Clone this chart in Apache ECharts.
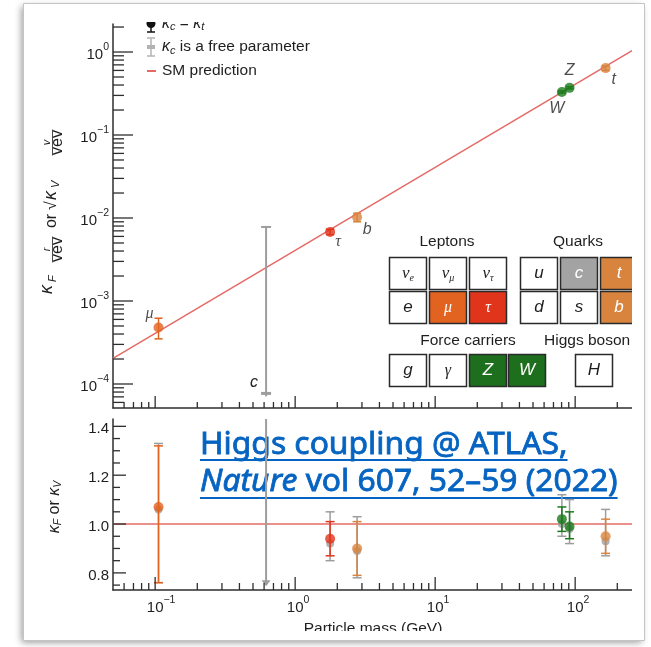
<!DOCTYPE html>
<html>
<head>
<meta charset="utf-8">
<title>Higgs boson couplings vs particle mass</title>
<script src="https://cdn.jsdelivr.net/npm/echarts@6.0.0/dist/echarts.min.js"></script>
<style>
  html, body { margin: 0; padding: 0; background: #ffffff; }
  #chart { width: 651px; height: 647px; }
</style>
</head>
<body>
<div id="chart"></div>
<script>
// ---- measured particles (masses in GeV) ----
const particles = ['μ', 'τ', 'b', 'W', 'Z', 't'];
const massGeV = [0.1057, 1.777, 2.77, 80.4, 91.19, 165];

// upper panel: reduced coupling strength (kappa_c = kappa_t)
const reducedCoupling = [4.8e-4, 6.8e-3, 1.02e-2, 0.33, 0.37, 0.64];
const reducedLow      = [3.5e-4, 6.3e-3, 9.0e-3, 0.32, 0.36, 0.60];
const reducedHigh     = [6.2e-4, 7.3e-3, 1.14e-2, 0.34, 0.38, 0.68];

// lower panel: coupling modifiers, kappa_c = kappa_t
const kappa     = [1.07, 0.94, 0.90, 1.02, 0.99, 0.95];
const kappaLow  = [0.76, 0.87, 0.79, 0.97, 0.94, 0.88];
const kappaHigh = [1.32, 1.01, 1.01, 1.07, 1.05, 1.02];

// lower panel: coupling modifiers with kappa_c as a free parameter
const kappaFree     = [1.06, 0.92, 0.89, 1.00, 0.98, 0.93];
const kappaFreeLow  = [0.76, 0.85, 0.78, 0.95, 0.92, 0.87];
const kappaFreeHigh = [1.33, 1.05, 1.03, 1.12, 1.10, 1.06];

// charm quark (only with kappa_c free)
const charmMass = 0.62;
const charmReduced = 7.7e-5;
const charmReducedLow = 7.1e-5;
const charmReducedHigh = 7.8e-3;
const charmKappaHigh = 1.43;
const charmKappaLimit = 0.745;

// SM expectation
const smMass = [0.05, 255];
const smReduced = [2.03e-4, 1.04];
const smKappa = [1, 1];

// axis ticks
const xMajorTicks = [0.1, 1, 10, 100];
const xTickLabels = ['10^−1', '10^0', '10^1', '10^2'];
const yTopMajorTicks = [1e-4, 1e-3, 1e-2, 1e-1, 1];
const yTopTickLabels = ['10^−4', '10^−3', '10^−2', '10^−1', '10^0'];
const yBottomMajorTicks = [0.8, 1.0, 1.2, 1.4];
const yBottomTickLabels = ['0.8', '1.0', '1.2', '1.4'];
const yBottomMinorTicks = [0.75, 0.85, 0.9, 0.95, 1.05, 1.1, 1.15, 1.25, 1.3, 1.35];

// ---- styling ----
const FONT = '"Liberation Sans", Arial, Helvetica, sans-serif';
const LINKFONT = '"Noto Sans", "Open Sans", sans-serif';
const SERIF = '"Liberation Serif", "DejaVu Serif", serif';
const AXIS = '#2e2e2e';
const TEXT = '#1e1e1e';
const GREY = '#9d9d9d';
const SMRED = '#e56a66';
const particleColor = { 'μ': '#e2621f', 'τ': '#e0351b', 'b': '#d8843f', 'W': '#1b7a1b', 'Z': '#1b7a1b', 't': '#d8843f' };
const labelOffset = { 'μ': [-9, -14], 'τ': [8, 10], 'b': [10, 12], 'W': [-5, 17], 'Z': [0, -17], 't': [8, 11] };
const greekLabel = { 'μ': true, 'τ': true };

const X_MIN = 0.05, X_MAX = 254.7;
const YT_MIN = 5.138e-5, YT_MAX = 2.175;
const YB_MIN = 0.73, YB_MAX = 1.43;

const measureCtx = document.createElement('canvas').getContext('2d');
function textWidth(txt, font) { measureCtx.font = font; return measureCtx.measureText(txt).width; }

// minor ticks of a log axis: 2..9 times each decade, inside the range
function logMinors(lo, hi) {
  const out = [];
  for (let e = Math.floor(Math.log10(lo)); e <= Math.ceil(Math.log10(hi)); e++) {
    for (let k = 2; k <= 9; k++) {
      const v = k * Math.pow(10, e);
      if (v > lo * 1.001 && v < hi) out.push(v);
    }
  }
  return out;
}

const tickRich = {
  b: { fontSize: 15, fontFamily: FONT, lineHeight: 20, verticalAlign: 'bottom', fill: TEXT, color: TEXT },
  s: { fontSize: 10.5, fontFamily: FONT, lineHeight: 13, verticalAlign: 'top', fill: TEXT, color: TEXT }
};
function richTick(s) {
  const parts = s.split('^');
  return parts.length === 2 ? '{b|' + parts[0] + '}{s|' + parts[1] + '}' : '{b|' + s + '}';
}
const tenHalf = textWidth('10', '15px ' + FONT) / 2;

// ticks and tick labels drawn through the axis scales
function tickSeries(dim, gridIdx, majors, minors, majorLen, minorLen, labels, refOther) {
  const data = majors.map(v => [v, 2]).concat(minors.map(v => [v, 1]));
  return {
    type: 'custom', xAxisIndex: gridIdx, yAxisIndex: gridIdx, clip: false, silent: true, z: 6,
    encode: dim === 'x' ? { x: 0, y: 1 } : { y: 0, x: 1 },
    data,
    renderItem(params, api) {
      const cs = params.coordSys;
      const v = api.value(0);
      const major = api.value(1) === 2;
      const len = major ? majorLen : minorLen;
      const children = [];
      if (dim === 'x') {
        const x = api.coord([v, refOther])[0];
        const y0 = cs.y + cs.height;
        children.push({ type: 'line', shape: { x1: x, y1: y0, x2: x, y2: y0 - len }, style: { stroke: AXIS, lineWidth: 1.3 } });
        if (major && labels) {
          const idx = majors.indexOf(v);
          children.push({ type: 'text', style: { text: richTick(labels[idx]), rich: tickRich, x: x - tenHalf, y: y0 + 15, align: 'left', verticalAlign: 'middle', fill: TEXT } });
        }
      } else {
        const y = api.coord([refOther, v])[1];
        const x0 = cs.x;
        children.push({ type: 'line', shape: { x1: x0, y1: y, x2: x0 + len, y2: y }, style: { stroke: AXIS, lineWidth: 1.3 } });
        if (major && labels) {
          const idx = majors.indexOf(v);
          children.push({ type: 'text', style: { text: richTick(labels[idx]), rich: tickRich, x: x0 - 4, y: y, align: 'right', verticalAlign: 'middle', fill: TEXT } });
        }
      }
      return { type: 'group', children };
    }
  };
}

// vertical error bars with caps
function errorBarSeries(gridIdx, xs, lows, highs, colorOf, capHalf, lineWidth, z) {
  return {
    type: 'custom', xAxisIndex: gridIdx, yAxisIndex: gridIdx, clip: false, silent: true, z,
    encode: { x: 0, y: [1, 2] },
    data: xs.map((m, i) => [m, lows[i], highs[i], i]),
    renderItem(params, api) {
      const lo = api.coord([api.value(0), api.value(1)]);
      const hi = api.coord([api.value(0), api.value(2)]);
      const color = colorOf(api.value(3));
      const st = { stroke: color, lineWidth };
      return {
        type: 'group', children: [
          { type: 'line', shape: { x1: lo[0], y1: lo[1], x2: hi[0], y2: hi[1] }, style: st },
          { type: 'line', shape: { x1: lo[0] - capHalf, y1: lo[1], x2: lo[0] + capHalf, y2: lo[1] }, style: st },
          { type: 'line', shape: { x1: hi[0] - capHalf, y1: hi[1], x2: hi[0] + capHalf, y2: hi[1] }, style: st }
        ]
      };
    }
  };
}

function pointSeries(gridIdx, ys, colorOf, size, z, withLabels) {
  return {
    type: 'scatter', xAxisIndex: gridIdx, yAxisIndex: gridIdx, z, silent: true,
    symbol: 'circle', symbolSize: size,
    data: particles.map((p, i) => {
      const item = { name: p, value: [massGeV[i], ys[i]], itemStyle: { color: colorOf(i) } };
      if (withLabels) {
        item.label = {
          show: true, position: 'inside', offset: labelOffset[p], formatter: '{b}',
          fontStyle: 'italic', fontSize: 16, color: TEXT,
          fontFamily: greekLabel[p] ? SERIF : FONT
        };
      }
      return item;
    })
  };
}

const colorByIndex = i => particleColor[particles[i]];
const greyByIndex = () => GREY;

const axisCommon = {
  axisLine: { show: true, onZero: false, lineStyle: { color: AXIS, width: 1.5 } },
  axisTick: { show: false }, axisLabel: { show: false }, splitLine: { show: false }, minorTick: { show: false }
};

const series = [
  // SM lines
  { type: 'line', xAxisIndex: 0, yAxisIndex: 0, z: 3, silent: true, symbol: 'none',
    lineStyle: { color: SMRED, width: 1.5 }, data: smMass.map((m, i) => [m, smReduced[i]]) },
  { type: 'line', xAxisIndex: 1, yAxisIndex: 1, z: 3, silent: true, symbol: 'none',
    lineStyle: { color: SMRED, width: 1.5 }, data: smMass.map((m, i) => [m, smKappa[i]]) },

  // charm, upper panel
  {
    type: 'custom', xAxisIndex: 0, yAxisIndex: 0, clip: false, silent: true, z: 4,
    encode: { x: 0, y: [1, 2, 3] },
    data: [[charmMass, charmReducedLow, charmReduced, charmReducedHigh]],
    renderItem(params, api) {
      const lo = api.coord([api.value(0), api.value(1)]);
      const c = api.coord([api.value(0), api.value(2)]);
      const hi = api.coord([api.value(0), api.value(3)]);
      const st = { stroke: GREY, lineWidth: 2 };
      return {
        type: 'group', children: [
          { type: 'line', shape: { x1: lo[0], y1: lo[1], x2: hi[0], y2: hi[1] }, style: st },
          { type: 'line', shape: { x1: hi[0] - 5, y1: hi[1], x2: hi[0] + 5, y2: hi[1] }, style: st },
          { type: 'line', shape: { x1: c[0] - 5, y1: c[1], x2: c[0] + 5, y2: c[1] }, style: { stroke: GREY, lineWidth: 3 } },
          { type: 'text', style: { text: 'c', x: c[0] - 12, y: c[1] - 11, align: 'center', verticalAlign: 'middle', font: 'italic 16px ' + FONT, fill: TEXT } }
        ]
      };
    }
  },
  // charm, lower panel (limit arrow)
  {
    type: 'custom', xAxisIndex: 1, yAxisIndex: 1, clip: false, silent: true, z: 4,
    encode: { x: 0, y: [1, 2] },
    data: [[charmMass, charmKappaLimit, charmKappaHigh]],
    renderItem(params, api) {
      const lo = api.coord([api.value(0), api.value(1)]);
      const hi = api.coord([api.value(0), api.value(2)]);
      return {
        type: 'group', children: [
          { type: 'line', shape: { x1: lo[0], y1: lo[1] - 4, x2: hi[0], y2: hi[1] }, style: { stroke: GREY, lineWidth: 2 } },
          { type: 'polygon', shape: { points: [[lo[0] - 4.5, lo[1] - 6], [lo[0] + 4.5, lo[1] - 6], [lo[0], lo[1]]] }, style: { fill: GREY } }
        ]
      };
    }
  },

  // upper panel measurements
  errorBarSeries(0, massGeV, reducedLow, reducedHigh, colorByIndex, 4, 1.5, 5),
  pointSeries(0, reducedCoupling, colorByIndex, 10, 6, true),

  // lower panel: kappa_c free (grey) behind kappa_c = kappa_t (coloured)
  errorBarSeries(1, massGeV, kappaFreeLow, kappaFreeHigh, greyByIndex, 4.5, 1.5, 4),
  pointSeries(1, kappaFree, greyByIndex, 8, 4, false),
  errorBarSeries(1, massGeV, kappaLow, kappaHigh, colorByIndex, 4.5, 1.5, 5),
  pointSeries(1, kappa, colorByIndex, 10, 6, false),

  // axis ticks
  tickSeries('x', 0, xMajorTicks, logMinors(X_MIN, X_MAX), 12, 6, null, 1),
  tickSeries('x', 1, xMajorTicks, logMinors(X_MIN, X_MAX), 13, 7, xTickLabels, 1),
  tickSeries('y', 0, yTopMajorTicks, logMinors(YT_MIN, YT_MAX), 20, 11, yTopTickLabels, 1),
  tickSeries('y', 1, yBottomMajorTicks, yBottomMinorTicks, 13, 7, yBottomTickLabels, 1)
];

// ---- graphic overlays ----
const graphic = [];

// framed picture with drop shadow
graphic.push({ type: 'rect', z: -5, shape: { x: 23.5, y: 3.5, width: 621, height: 637 },
  style: { fill: '#ffffff', shadowBlur: 7, shadowOffsetX: -3, shadowOffsetY: 2, shadowColor: 'rgba(0,0,0,0.4)' } });

// legend
const legendRich = {
  k: { fontSize: 16, fontStyle: 'italic', fontFamily: FONT, lineHeight: 18, fill: TEXT },
  s: { fontSize: 11, fontStyle: 'italic', fontFamily: FONT, lineHeight: 10, verticalAlign: 'bottom', fill: TEXT }
};
graphic.push({ type: 'group', z: 20, children: [
  { type: 'line', shape: { x1: 151, y1: 14, x2: 151, y2: 32 }, style: { stroke: '#111', lineWidth: 1.5 } },
  { type: 'line', shape: { x1: 147, y1: 32, x2: 155, y2: 32 }, style: { stroke: '#111', lineWidth: 1.5 } },
  { type: 'circle', shape: { cx: 151, cy: 23.5, r: 4.5 }, style: { fill: '#111' } },
  { type: 'text', style: { text: '{k|κ}{s|c} = {k|κ}{s|t}', x: 162, y: 23.5, align: 'left', verticalAlign: 'middle',
    rich: legendRich, font: '15.5px ' + FONT, fill: TEXT } },

  { type: 'line', shape: { x1: 151, y1: 38, x2: 151, y2: 56 }, style: { stroke: '#b3b3b3', lineWidth: 1.5 } },
  { type: 'line', shape: { x1: 147, y1: 38, x2: 155, y2: 38 }, style: { stroke: '#b3b3b3', lineWidth: 1.5 } },
  { type: 'line', shape: { x1: 147, y1: 56, x2: 155, y2: 56 }, style: { stroke: '#b3b3b3', lineWidth: 1.5 } },
  { type: 'rect', shape: { x: 147, y: 45, width: 8, height: 4 }, style: { fill: '#b3b3b3' } },
  { type: 'text', style: { text: '{k|κ}{s|c} is a free parameter', x: 162, y: 47, align: 'left', verticalAlign: 'middle',
    rich: legendRich, font: '15.5px ' + FONT, fill: TEXT } },

  { type: 'line', shape: { x1: 147, y1: 71, x2: 156, y2: 71 }, style: { stroke: SMRED, lineWidth: 2 } },
  { type: 'text', style: { text: 'SM prediction', x: 162, y: 71, align: 'left', verticalAlign: 'middle', font: '15.5px ' + FONT, fill: TEXT } }
] });

// y-axis title of the upper panel (rotated, with fractions)
(function () {
  const fs = 16, small = 11;
  const base = b => b - 0.3465 * fs;
  const baseS = b => b - 0.3465 * small;
  const kids = [];
  const t = (txt, x, y, font, align) => kids.push({ type: 'text', style: { text: txt, x, y, font, fill: TEXT, align: align || 'left', verticalAlign: 'middle' } });
  const frac = (cx, num) => {
    t(num, cx, baseS(-2.5), 'italic ' + small + 'px ' + FONT, 'center');
    kids.push({ type: 'line', shape: { x1: cx - 13, y1: -0.5, x2: cx + 13, y2: -0.5 }, style: { stroke: TEXT, lineWidth: 0.8 } });
    t('vev', cx, base(10), fs + 'px ' + FONT, 'center');
  };
  t('κ', 1, base(0), 'italic 18px ' + FONT);
  t('F', 13, baseS(4), 'italic ' + small + 'px ' + FONT);
  frac(45.5, 'r');
  t('or', 74, base(4), fs + 'px ' + FONT, 'center');
  t('√', 85, base(4), fs + 'px ' + FONT);
  t('κ', 95, base(4), 'italic 18px ' + FONT);
  t('V', 107, baseS(7), 'italic ' + small + 'px ' + FONT);
  frac(152.5, 'v');
  graphic.push({ type: 'group', x: 53, y: 295, rotation: Math.PI / 2, z: 20, children: kids });
})();

// y-axis title of the lower panel
graphic.push({ type: 'text', z: 20, x: 55, y: 507, rotation: Math.PI / 2,
  style: { text: '{k|κ}{s|F} or {k|κ}{s|V}', x: 0, y: 0, align: 'center', verticalAlign: 'middle', font: '16px ' + FONT, fill: TEXT,
    rich: { k: { fontSize: 16, fontStyle: 'italic', fontFamily: FONT, lineHeight: 18, fill: TEXT },
            s: { fontSize: 10.5, fontStyle: 'italic', fontFamily: FONT, lineHeight: 10, verticalAlign: 'bottom', fill: TEXT } } } });

// x-axis title
graphic.push({ type: 'text', z: 20, style: { text: 'Particle mass (GeV)', x: 373, y: 629, align: 'center', verticalAlign: 'middle', font: '15.5px ' + FONT, fill: TEXT } });

// particle table
(function () {
  const BW = 37, BH = 32;
  const kids = [];
  const box = (x, y, fill) => kids.push({ type: 'rect', shape: { x: x + 0.5, y: y + 0.5, width: BW, height: BH }, style: { fill, stroke: '#2a2a2a', lineWidth: 1.5 } });
  const sym = (x, y, text, color, rich) => kids.push({ type: 'text', style: { text, x: x + BW / 2 + 0.5, y: y + BH / 2 + 0.5, align: 'center', verticalAlign: 'middle', fill: color, font: 'italic 17px ' + FONT, rich } });
  const nuRich = {
    n: { fontSize: 17, fontStyle: 'italic', fontFamily: SERIF, lineHeight: 20, fill: TEXT },
    s: { fontSize: 10, fontStyle: 'italic', fontFamily: SERIF, lineHeight: 10, verticalAlign: 'bottom', fill: TEXT }
  };
  const greekFont = 'italic 16px ' + SERIF;
  const cell = (x, y, fill, text, color, opts) => { box(x, y, fill); sym(x, y, text, color, opts && opts.rich); if (opts && opts.font) kids[kids.length - 1].style.font = opts.font; };

  kids.push({ type: 'text', style: { text: 'Leptons', x: 447, y: 242, align: 'center', verticalAlign: 'middle', font: '15.5px ' + FONT, fill: TEXT } });
  kids.push({ type: 'text', style: { text: 'Quarks', x: 578, y: 242, align: 'center', verticalAlign: 'middle', font: '15.5px ' + FONT, fill: TEXT } });
  kids.push({ type: 'text', style: { text: 'Force carriers', x: 468, y: 341, align: 'center', verticalAlign: 'middle', font: '15.5px ' + FONT, fill: TEXT } });
  kids.push({ type: 'text', style: { text: 'Higgs boson', x: 544, y: 341, align: 'left', verticalAlign: 'middle', font: '15.5px ' + FONT, fill: TEXT } });

  cell(389, 257, '#fff', '{n|ν}{s|e}', TEXT, { rich: nuRich });
  cell(429, 257, '#fff', '{n|ν}{s|μ}', TEXT, { rich: nuRich });
  cell(469, 257, '#fff', '{n|ν}{s|τ}', TEXT, { rich: nuRich });
  cell(389, 291, '#fff', 'e', TEXT);
  cell(429, 291, particleColor['μ'], 'μ', '#fff', { font: greekFont });
  cell(469, 291, particleColor['τ'], 'τ', '#fff', { font: greekFont });

  cell(520, 257, '#fff', 'u', TEXT);
  cell(560, 257, '#a3a3a3', 'c', '#fff');
  cell(600, 257, particleColor['t'], 't', '#fff');
  cell(520, 291, '#fff', 'd', TEXT);
  cell(560, 291, '#fff', 's', TEXT);
  cell(600, 291, particleColor['b'], 'b', '#fff');

  cell(389, 354, '#fff', 'g', TEXT);
  cell(429, 354, '#fff', 'γ', TEXT, { font: greekFont });
  cell(469, 354, '#1d6e1d', 'Z', '#fff');
  cell(508, 354, '#1d6e1d', 'W', '#fff');
  cell(575, 354, '#fff', 'H', TEXT);
  graphic.push({ type: 'group', z: 15, children: kids });
})();

// citation link text, sized so the second line spans its full width
(function () {
  const blue = '#0563c1';
  const rest = ' vol 607, 52–59 (2022)';
  const w100 = textWidth('Nature', 'italic 100px ' + LINKFONT) + textWidth(rest, '100px ' + LINKFONT);
  const fs = Math.round(418 / w100 * 100 * 10) / 10;
  const f = fs + 'px ' + LINKFONT, fi = 'italic ' + fs + 'px ' + LINKFONT;
  const line1 = 'Higgs coupling @ ATLAS,';
  const w1 = textWidth(line1, f);
  const w2 = textWidth('Nature', fi) + textWidth(rest, f);
  const lift = 0.33 * fs;
  const heavy = { stroke: blue, lineWidth: 0.8 };
  const kids = [
    { type: 'text', style: Object.assign({ text: line1, x: 200, y: 455 - lift, align: 'left', verticalAlign: 'middle', font: f, fill: blue }, heavy) },
    { type: 'text', style: Object.assign({ text: '{i|Nature}' + rest, x: 200, y: 492 - lift, align: 'left', verticalAlign: 'middle', font: f, fill: blue,
      rich: { i: Object.assign({ fontSize: fs, fontStyle: 'italic', fontFamily: LINKFONT, fill: blue }, heavy) } }, heavy) },
    { type: 'line', shape: { x1: 200, y1: 460, x2: 200 + w1, y2: 460 }, style: { stroke: blue, lineWidth: 2 } },
    { type: 'line', shape: { x1: 200, y1: 498, x2: 200 + w2, y2: 498 }, style: { stroke: blue, lineWidth: 2 } }
  ];
  graphic.push({ type: 'group', z: 30, children: kids });
})();

// picture edges: white margins inside the frame, then the border
graphic.push({ type: 'rect', z: 40, shape: { x: 24, y: 4, width: 620, height: 18 }, style: { fill: '#fff' } });
graphic.push({ type: 'rect', z: 40, shape: { x: 632, y: 4, width: 12, height: 636 }, style: { fill: '#fff' } });
graphic.push({ type: 'rect', z: 40, shape: { x: 24, y: 631, width: 620, height: 9 }, style: { fill: '#fff' } });
graphic.push({ type: 'rect', z: 41, shape: { x: 23.5, y: 3.5, width: 621, height: 637 }, style: { fill: 'none', stroke: '#c4c4c4', lineWidth: 1 } });

const option = {
  animation: false,
  backgroundColor: '#ffffff',
  grid: [
    { left: 113, top: 24, width: 519, height: 384 },
    { left: 113, top: 419, width: 519, height: 171 }
  ],
  xAxis: [
    Object.assign({ type: 'log', logBase: 10, gridIndex: 0, min: X_MIN, max: X_MAX }, axisCommon),
    Object.assign({ type: 'log', logBase: 10, gridIndex: 1, min: X_MIN, max: X_MAX }, axisCommon)
  ],
  yAxis: [
    Object.assign({ type: 'log', logBase: 10, gridIndex: 0, min: YT_MIN, max: YT_MAX }, axisCommon),
    Object.assign({ type: 'value', gridIndex: 1, min: YB_MIN, max: YB_MAX }, axisCommon)
  ],
  series,
  graphic
};

const chart = echarts.init(document.getElementById('chart'), null, { renderer: 'canvas' });
chart.setOption(option);
</script>
</body>
</html>
